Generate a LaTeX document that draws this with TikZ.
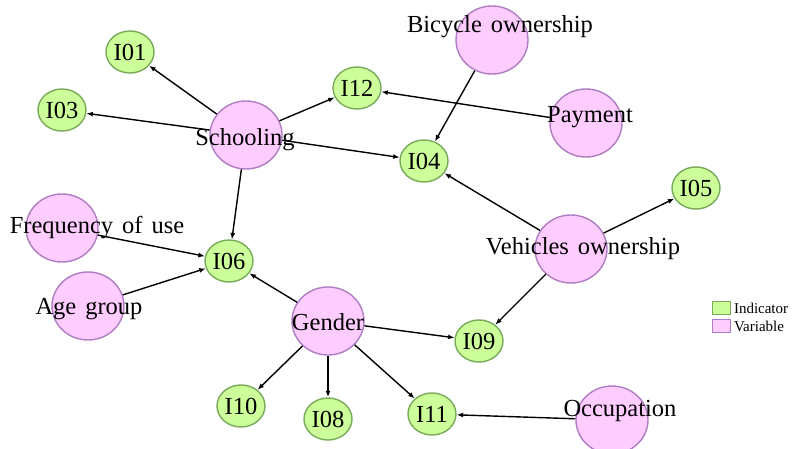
\documentclass[tikz,border=0pt]{standalone}
\usepackage{fontspec}
\setmainfont{Liberation Serif}
\usetikzlibrary{arrows.meta,shapes.geometric,positioning}
\definecolor{indfill}{RGB}{204,255,153}
\definecolor{inddraw}{RGB}{120,170,90}
\definecolor{varfill}{RGB}{255,204,255}
\definecolor{vardraw}{RGB}{175,125,195}
\newcommand\lblfont{\fontsize{24.5}{28}\selectfont\spaceskip=9pt\relax}
\begin{document}
\begin{tikzpicture}[x=1pt,y=-1pt,
  indic/.style={ellipse,draw=inddraw,fill=indfill,minimum width=48pt,minimum height=42pt,inner sep=0pt,
    font=\fontsize{24.5}{28}\selectfont},
  var/.style={ellipse,draw=vardraw,fill=varfill,minimum width=72pt,minimum height=68pt},
  lbl/.style={font=\lblfont,inner sep=0pt},
  legbox/.style={draw,minimum width=18pt,minimum height=13pt,inner sep=0pt},
  >={Latex[length=6.5pt,width=5pt]},line width=1.4pt]
\useasboundingbox (0,0) rectangle (798,449);
% variables
\node[var] (bike) at (492,40) {};
\node[var] (pay) at (586,123) {};
\node[var] (school) at (246,135) {};
\node[var] (veh) at (571,249) {};
\node[var] (freq) at (62,228) {};
\node[var] (age) at (88,306) {};
\node[var] (gender) at (328,321) {};
\node[var] (occ) at (612,420) {};
% indicators
\node[indic] (i01) at (130,52) {I01};
\node[indic] (i03) at (62,110) {I03};
\node[indic] (i12) at (357,88) {I12};
\node[indic] (i04) at (424,161) {I04};
\node[indic] (i05) at (696,188) {I05};
\node[indic] (i06) at (229,261) {I06};
\node[indic] (i09) at (479,341) {I09};
\node[indic] (i10) at (241,406) {I10};
\node[indic] (i08) at (328,419) {I08};
\node[indic] (i11) at (432,414) {I11};
% arrows
\foreach \t in {i01,i03,i12,i04,i06}
  \draw[->] (school) -- (\t);
\foreach \t in {i06,i09,i10,i08,i11}
  \draw[->] (gender) -- (\t);
\foreach \t in {i04,i05,i09}
  \draw[->] (veh) -- (\t);
\draw[->] (bike) -- (i04);
\draw[->] (pay) -- (i12);
\draw[->] (freq) -- (i06);
\draw[->] (age) -- (i06);
\draw[->] (occ) -- (i11);
% labels
\node[lbl] (bikeT) at (500,27) {Bicycle ownership};
\node[lbl] (payT) at (590,117) {Payment};
\node[lbl] (schoolT) at (245,140) {Schooling};
\node[lbl] (vehT) at (583,249) {Vehicles ownership};
\node[lbl] (freqT) at (97,228) {Frequency of use};
\node[lbl] (ageT) at (89,309) {Age group};
\node[lbl] (genderT) at (328,322) {Gender};
\node[lbl] (occT) at (620,411) {Occupation};
% legend
\node[legbox,draw=inddraw,fill=indfill,line width=0.6pt] (legI) at (721,308) {};
\node[legbox,draw=vardraw,fill=varfill,line width=0.6pt] (legV) at (721,326) {};
\node[right=3pt of legI,inner sep=0pt,font=\fontsize{15}{17}\selectfont] (legIT) {Indicator};
\node[right=3pt of legV,inner sep=0pt,font=\fontsize{15}{17}\selectfont] (legVT) {Variable};
\end{tikzpicture}
\end{document}
